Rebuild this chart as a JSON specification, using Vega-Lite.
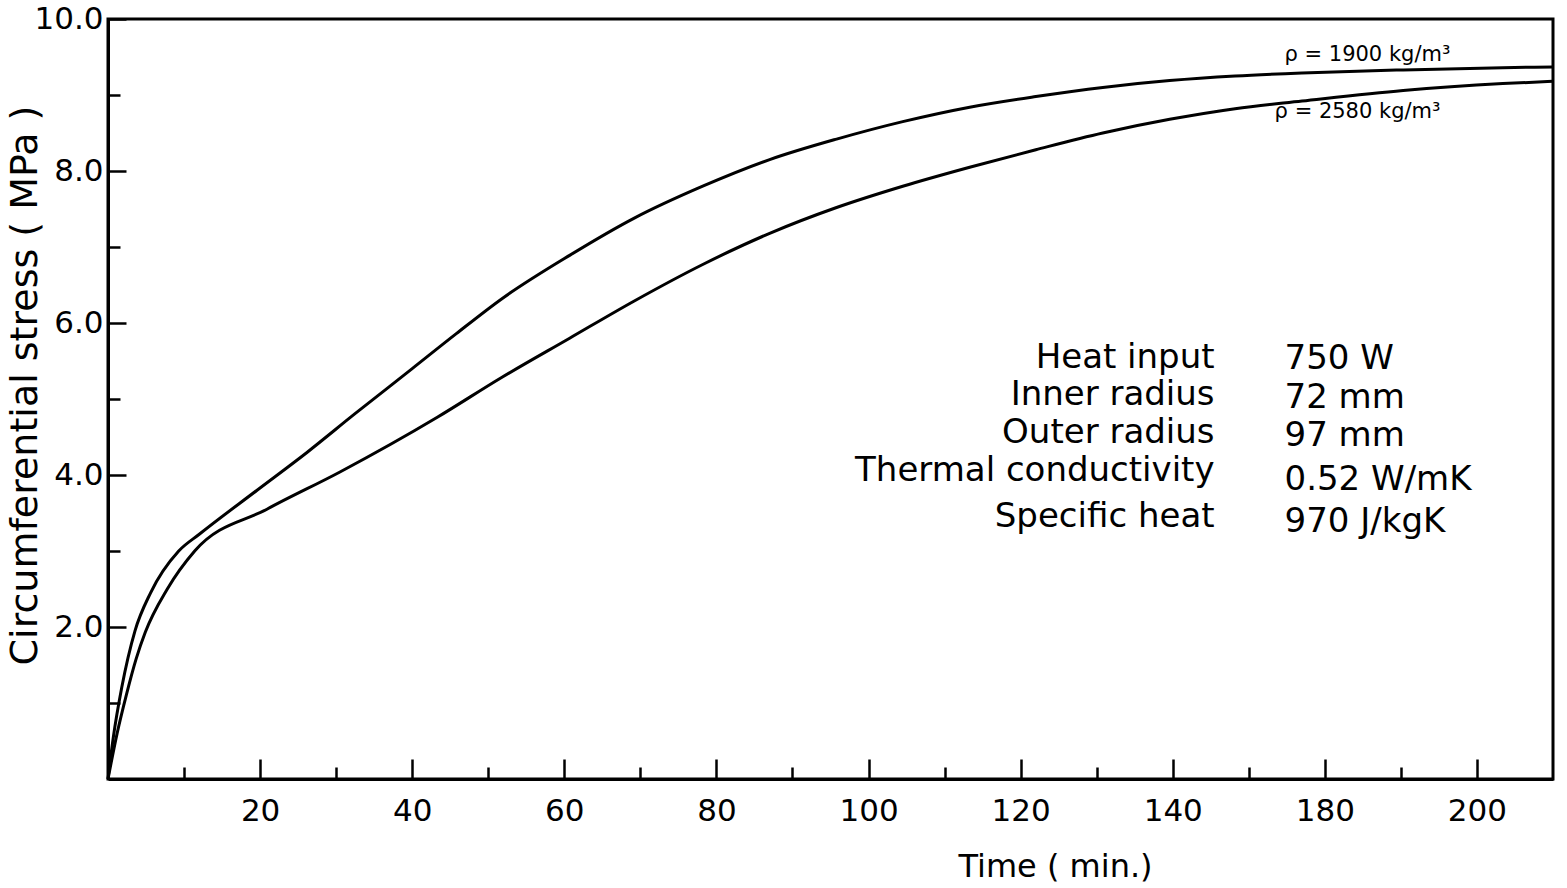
{
  "$schema": "https://vega.github.io/schema/vega-lite/v6.json",
  "autosize": {"type": "none"},
  "padding": {"left": 108, "top": 19, "right": 14, "bottom": 109},
  "width": 1445,
  "height": 760,
  "background": "white",
  "config": {
    "view": {"stroke": "black", "strokeWidth": 3},
    "font": "DejaVu Sans",
    "axis": {
      "grid": false,
      "domainColor": "black",
      "domainWidth": 3,
      "tickColor": "black",
      "tickWidth": 2.5,
      "labelColor": "black",
      "titleColor": "black",
      "labelFont": "DejaVu Sans",
      "titleFont": "DejaVu Sans",
      "titleFontWeight": "normal"
    }
  },
  "datasets": {
    "curves": [
      {"density": "1900", "time": 0, "stress": 0},
      {"density": "1900", "time": 0.7, "stress": 0.55},
      {"density": "1900", "time": 1.8, "stress": 1.2},
      {"density": "1900", "time": 3.55, "stress": 1.95},
      {"density": "1900", "time": 5.6, "stress": 2.45},
      {"density": "1900", "time": 9.3, "stress": 3.0},
      {"density": "1900", "time": 12.0, "stress": 3.22},
      {"density": "1900", "time": 19.6, "stress": 3.8},
      {"density": "1900", "time": 26.2, "stress": 4.3},
      {"density": "1900", "time": 32.4, "stress": 4.8},
      {"density": "1900", "time": 40, "stress": 5.4},
      {"density": "1900", "time": 45.8, "stress": 5.86},
      {"density": "1900", "time": 51.8, "stress": 6.32},
      {"density": "1900", "time": 60.7, "stress": 6.89},
      {"density": "1900", "time": 69.2, "stress": 7.38},
      {"density": "1900", "time": 78.2, "stress": 7.8},
      {"density": "1900", "time": 87, "stress": 8.15},
      {"density": "1900", "time": 95.8, "stress": 8.42},
      {"density": "1900", "time": 104.5, "stress": 8.65},
      {"density": "1900", "time": 113.3, "stress": 8.84},
      {"density": "1900", "time": 122, "stress": 8.98},
      {"density": "1900", "time": 130.8, "stress": 9.1},
      {"density": "1900", "time": 139.6, "stress": 9.19},
      {"density": "1900", "time": 148.2, "stress": 9.25},
      {"density": "1900", "time": 157, "stress": 9.29},
      {"density": "1900", "time": 170.3, "stress": 9.33},
      {"density": "1900", "time": 183.4, "stress": 9.36},
      {"density": "1900", "time": 190, "stress": 9.37},
      {"density": "2580", "time": 0, "stress": 0},
      {"density": "2580", "time": 1.2, "stress": 0.6},
      {"density": "2580", "time": 2.4, "stress": 1.1},
      {"density": "2580", "time": 3.7, "stress": 1.58},
      {"density": "2580", "time": 4.9, "stress": 1.93},
      {"density": "2580", "time": 7.8, "stress": 2.5},
      {"density": "2580", "time": 11.4, "stress": 3.0},
      {"density": "2580", "time": 20.9, "stress": 3.55},
      {"density": "2580", "time": 30.5, "stress": 4.04},
      {"density": "2580", "time": 43.3, "stress": 4.76},
      {"density": "2580", "time": 51.7, "stress": 5.28},
      {"density": "2580", "time": 60.7, "stress": 5.8},
      {"density": "2580", "time": 69.2, "stress": 6.29},
      {"density": "2580", "time": 78.2, "stress": 6.77},
      {"density": "2580", "time": 87, "stress": 7.18},
      {"density": "2580", "time": 95.8, "stress": 7.52},
      {"density": "2580", "time": 104.5, "stress": 7.8},
      {"density": "2580", "time": 113.3, "stress": 8.05},
      {"density": "2580", "time": 122, "stress": 8.28},
      {"density": "2580", "time": 130.8, "stress": 8.5},
      {"density": "2580", "time": 139.6, "stress": 8.68},
      {"density": "2580", "time": 148.2, "stress": 8.82},
      {"density": "2580", "time": 157, "stress": 8.92},
      {"density": "2580", "time": 170.3, "stress": 9.06},
      {"density": "2580", "time": 183.4, "stress": 9.15},
      {"density": "2580", "time": 190, "stress": 9.18}
    ],
    "curveLabels": [
      {"text": "ρ = 1900 kg/m³", "time": 165.6, "stress": 9.53},
      {"text": "ρ = 2580 kg/m³", "time": 164.3, "stress": 8.78}
    ],
    "paramNames": [
      {"text": "Heat input", "time": 145.5, "stress": 5.54},
      {"text": "Inner radius", "time": 145.5, "stress": 5.05},
      {"text": "Outer radius", "time": 145.5, "stress": 4.55},
      {"text": "Thermal conductivity", "time": 145.5, "stress": 4.05},
      {"text": "Specific heat", "time": 145.5, "stress": 3.45}
    ],
    "paramValues": [
      {"text": "750 W", "time": 154.7, "stress": 5.52},
      {"text": "72 mm", "time": 154.7, "stress": 5.01},
      {"text": "97 mm", "time": 154.7, "stress": 4.51},
      {"text": "0.52 W/mK", "time": 154.7, "stress": 3.93},
      {"text": "970 J/kgK", "time": 154.7, "stress": 3.38}
    ]
  },
  "resolve": {"axis": {"x": "independent", "y": "independent"}},
  "layer": [
    {
      "data": {"name": "paramNames"},
      "mark": {"type": "text", "align": "right", "baseline": "middle", "fontSize": 34, "font": "DejaVu Sans", "color": "black"},
      "encoding": {
        "x": {"field": "time", "type": "quantitative", "scale": {"domain": [0, 190], "nice": false, "zero": false},
          "axis": {"orient": "bottom", "values": [10, 30, 50, 70, 90, 110, 130, 150, 170], "labels": false, "domain": false, "tickSize": -12, "title": null}},
        "y": {"field": "stress", "type": "quantitative", "scale": {"domain": [0, 10], "nice": false},
          "axis": {"orient": "left", "values": [1, 3, 5, 7, 9], "labels": false, "domain": false, "tickSize": -12, "title": null}},
        "text": {"field": "text"}
      }
    },
    {
      "data": {"name": "curves"},
      "mark": {"type": "line", "interpolate": "monotone", "color": "black", "strokeWidth": 3},
      "encoding": {
        "x": {"field": "time", "type": "quantitative",
          "axis": {"orient": "bottom", "values": [20, 40, 60, 80, 100, 120, 140, 160, 180],
            "labelExpr": "datum.value == 160 ? '180' : datum.value == 180 ? '200' : datum.label",
            "tickSize": -20, "labelPadding": 37, "labelFontSize": 31,
            "title": "Time  ( min.)", "titleFontSize": 32, "titleX": 947, "titleY": 87,
            "titleBaseline": "middle", "titleAlign": "center"}},
        "y": {"field": "stress", "type": "quantitative",
          "axis": {"orient": "left", "values": [2, 4, 6, 8, 10], "format": ".1f",
            "tickSize": -18, "labelPadding": 23, "labelFontSize": 31,
            "title": "Circumferential stress  ( MPa )", "titleFontSize": 38,
            "titleX": -83, "titleY": 366, "titleBaseline": "middle", "titleAlign": "center"}},
        "detail": {"field": "density"}
      }
    },
    {
      "data": {"name": "paramValues"},
      "mark": {"type": "text", "align": "left", "baseline": "middle", "fontSize": 34, "font": "DejaVu Sans", "color": "black"},
      "encoding": {
        "x": {"field": "time", "type": "quantitative", "axis": null},
        "y": {"field": "stress", "type": "quantitative", "axis": null},
        "text": {"field": "text"}
      }
    },
    {
      "data": {"name": "curveLabels"},
      "mark": {"type": "text", "align": "center", "baseline": "middle", "fontSize": 21, "font": "DejaVu Sans", "color": "black"},
      "encoding": {
        "x": {"field": "time", "type": "quantitative", "axis": null},
        "y": {"field": "stress", "type": "quantitative", "axis": null},
        "text": {"field": "text"}
      }
    }
  ]
}
